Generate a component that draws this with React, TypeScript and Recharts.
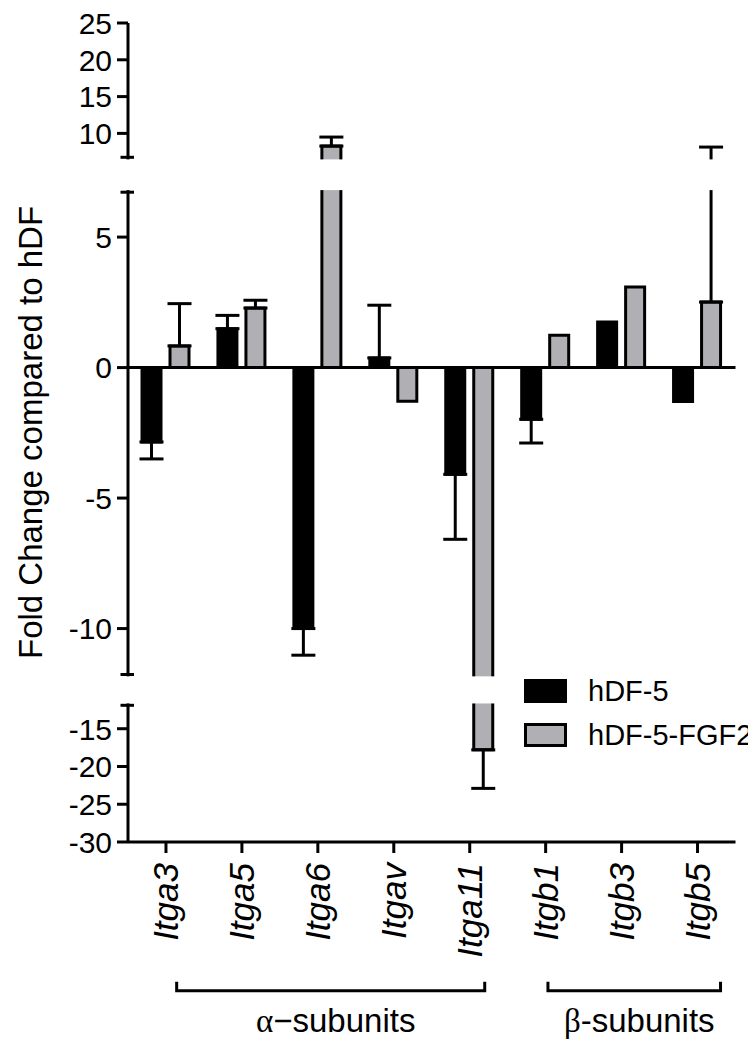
import React from 'react';
import { BarChart, Bar, XAxis, YAxis, ErrorBar, ReferenceLine, ReferenceArea, Legend, Label } from 'recharts';

// ---- data ----
const categories = ['Itga3', 'Itga5', 'Itga6', 'Itgav', 'Itga11', 'Itgb1', 'Itgb3', 'Itgb5'];
const hdf5 = [-2.85, 1.49, -10.0, 0.37, -4.09, -1.98, 1.75, -1.3];
const hdf5Err = [0.65, 0.51, 1.02, 2.02, 2.49, 0.91, 0, 0];
const hdf5Fgf2 = [0.83, 2.28, 8.27, -1.29, -17.8, 1.24, 3.09, 2.51];
const hdf5Fgf2Err = [1.62, 0.3, 1.23, 0, 5.1, 0, 0, 5.63];

const seriesNames = ['hDF-5', 'hDF-5-FGF2'];
const yTicks = [-30, -25, -20, -15, -10, -5, 0, 5, 10, 15, 20, 25];
const groupNames = ['α−subunits', 'β-subunits'];
const groupFirst = [0, 5];
const groupLast = [4, 7];

// ---- broken axis: value -> px from top of the plot ----
const PLOT_H = 819;
const Y_ANCHORS: [number, number][] = [
  [-30, 819],
  [-11.9, 682.3],
  [-11.76, 651.5],
  [6.72, 169.2],
  [6.75, 134.3],
  [25, 0],
];
const GAPS: [number, number][] = [
  [-11.9, -11.76],
  [6.72, 6.75],
];
const capTicks = GAPS.flat();

const FONT = '"Liberation Sans", Arial, Helvetica, sans-serif';
const SERIF = '"Liberation Serif", "Times New Roman", serif';
const BLACK = '#000000';
const GREY = '#b0b0b4';
const BRACKET_INSET: [number, number][] = [
  [10.7, 15],
  [2.3, 23],
];

function pxFromTop(v: number) {
  const a = Y_ANCHORS;
  let i = 0;
  while (i < a.length - 2 && v > a[i + 1][0]) i++;
  const [v0, p0] = a[i];
  const [v1, p1] = a[i + 1];
  return p0 + ((v - v0) / (v1 - v0)) * (p1 - p0);
}

function makeBrokenScale(): any {
  let dom: number[] = [-30, 25];
  let rng: number[] = [0, 1];
  const scale: any = (v: number) => {
    const g = 1 - pxFromTop(v) / PLOT_H;
    return rng[0] + g * (rng[1] - rng[0]);
  };
  scale.domain = (d?: number[]) => {
    if (d === undefined) return dom.slice();
    dom = d.slice();
    return scale;
  };
  scale.range = (r?: number[]) => {
    if (r === undefined) return rng.slice();
    rng = r.slice();
    return scale;
  };
  scale.copy = () => makeBrokenScale().domain(dom).range(rng);
  scale.ticks = () => yTicks;
  scale.tickFormat = () => (v: number) => String(v);
  scale.nice = () => scale;
  scale.clamp = () => scale;
  scale.invert = (p: number) => {
    const t = (p - rng[0]) / (rng[1] - rng[0]);
    return -30 + t * 55;
  };
  return scale;
}
const brokenScale = makeBrokenScale();

const oneSided = (v: number, e: number) => (e ? (v >= 0 ? [0, e] : [e, 0]) : null);

const data = categories.map((name, i) => ({
  name,
  hdf5: hdf5[i],
  hdf5Err: oneSided(hdf5[i], hdf5Err[i]),
  fgf2: hdf5Fgf2[i],
  fgf2Err: oneSided(hdf5Fgf2[i], hdf5Fgf2Err[i]),
}));

const allYTicks = [...yTicks, ...capTicks].sort((a, b) => a - b);

function YTick(props: any) {
  const { x, y, payload } = props;
  const v = payload.value;
  if (capTicks.includes(v)) {
    return <line x1={x - 7.5} x2={x + 6} y1={y} y2={y} stroke={BLACK} strokeWidth={3} />;
  }
  return (
    <g>
      <line x1={x - 11} x2={x} y1={y} y2={y} stroke={BLACK} strokeWidth={3} />
      <text x={x - 16} y={y} dy="0.36em" textAnchor="end" fontSize={30} fill={BLACK} fontFamily={FONT}>
        {v}
      </text>
    </g>
  );
}

function XTick(props: any) {
  const { x, y, payload } = props;
  const index = props.index ?? payload.index;
  const band = (props.width || 607.5) / categories.length;
  const g = groupFirst.indexOf(index);
  let bracket = null;
  if (g >= 0) {
    const x0 = x + BRACKET_INSET[g][0];
    const x1 = x + (groupLast[g] - groupFirst[g]) * band + BRACKET_INSET[g][1];
    const yb = y + 148.7;
    const name = groupNames[g];
    bracket = (
      <g>
        <path d={`M${x0},${yb - 9} V${yb} H${x1} V${yb - 9}`} fill="none" stroke={BLACK} strokeWidth={3} />
        <text x={(x0 + x1) / 2 + 5} y={y + 189.7} textAnchor="middle" fontSize={33} fill={BLACK} fontFamily={FONT}>
          <tspan fontFamily={SERIF}>{name[0]}</tspan>
          {name.slice(1)}
        </text>
      </g>
    );
  }
  const ty = y + 21;
  return (
    <g>
      <line x1={x} x2={x} y1={y} y2={y + 11} stroke={BLACK} strokeWidth={3} />
      <text
        x={x}
        y={ty}
        dy="0.35em"
        transform={`rotate(-90 ${x} ${ty})`}
        textAnchor="end"
        fontStyle="italic"
        fontSize={35}
        fill={BLACK}
        fontFamily={FONT}
      >
        {payload.value}
      </text>
      {bracket}
    </g>
  );
}

function YTitle(props: any) {
  const vb = props.viewBox || { x: 0, y: 15, width: 120, height: 819 };
  const cx = vb.x + 22;
  const cy = vb.y + vb.height / 2;
  return (
    <text
      x={cx}
      y={cy}
      dy="0.35em"
      transform={`rotate(-90 ${cx} ${cy})`}
      textAnchor="middle"
      fontSize={33}
      fill={BLACK}
      fontFamily={FONT}
    >
      Fold Change compared to hDF
    </text>
  );
}

function LegendBox() {
  const fills = [BLACK, GREY];
  return (
    <div style={{ fontFamily: FONT, fontSize: 29, color: BLACK, whiteSpace: 'nowrap' }}>
      {seriesNames.map((n, i) => (
        <div key={n} style={{ display: 'flex', alignItems: 'center', height: 24, marginBottom: 19.7 }}>
          <div
            style={{
              width: 43,
              height: 24,
              boxSizing: 'border-box',
              background: fills[i],
              border: `3px solid ${BLACK}`,
              marginRight: 21,
            }}
          />
          <span style={{ lineHeight: '24px' }}>{n}</span>
        </div>
      ))}
    </div>
  );
}

const gapShape = (p: any) => (
  <rect x={p.x - 9} y={p.y} width={p.width + 9} height={p.height} fill="#ffffff" stroke="none" />
);

export default function App() {
  return (
    <div style={{ width: 748, height: 1031, position: 'relative' }}>
      <BarChart
        width={748}
        height={1031}
        data={data}
        margin={{ top: 15, right: 20.5, bottom: 0, left: 0 }}
        barGap={9}
      >
        <XAxis
          dataKey="name"
          type="category"
          interval={0}
          height={197}
          tickSize={0}
          tickMargin={0}
          tickLine={false}
          axisLine={{ stroke: BLACK, strokeWidth: 3 }}
          tick={XTick}
        />
        <YAxis
          type="number"
          domain={[-30, 25]}
          scale={brokenScale}
          ticks={allYTicks}
          interval={0}
          width={120}
          tickSize={0}
          tickMargin={0}
          tickLine={false}
          axisLine={{ stroke: BLACK, strokeWidth: 3 }}
          tick={YTick}
          allowDataOverflow
        >
          <Label content={YTitle} />
        </YAxis>
        <Legend
          layout="vertical"
          align="center"
          verticalAlign="middle"
          content={() => <LegendBox />}
          wrapperStyle={{ left: 516, top: 671, width: 240 }}
        />
        <Bar dataKey="hdf5" name={seriesNames[0]} fill={BLACK} stroke={BLACK} strokeWidth={3} barSize={19} isAnimationActive={false}>
          <ErrorBar dataKey="hdf5Err" direction="y" width={12} stroke={BLACK} strokeWidth={3} isAnimationActive={false} />
        </Bar>
        <Bar dataKey="fgf2" name={seriesNames[1]} fill={GREY} stroke={BLACK} strokeWidth={3} barSize={19} isAnimationActive={false}>
          <ErrorBar dataKey="fgf2Err" direction="y" width={12} stroke={BLACK} strokeWidth={3} isAnimationActive={false} />
        </Bar>
        <ReferenceLine y={0} stroke={BLACK} strokeWidth={3} />
        {GAPS.map(([lo, hi]) => {
          const m = (hi - lo) * 0.06;
          return (
            <ReferenceArea
              key={lo}
              y1={lo + m}
              y2={hi - m}
              shape={gapShape}
              zIndex={1600}
              ifOverflow="visible"
            />
          );
        })}
      </BarChart>
    </div>
  );
}
